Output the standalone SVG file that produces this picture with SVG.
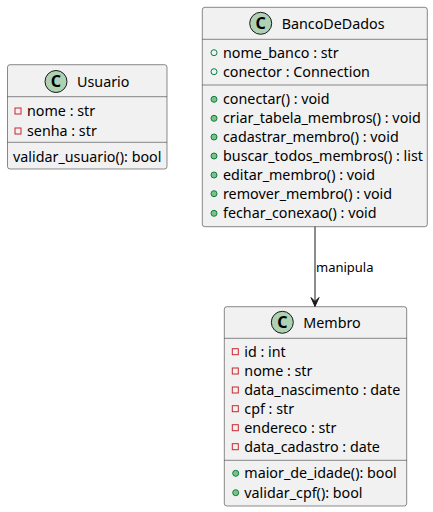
<svg xmlns="http://www.w3.org/2000/svg" width="433" height="512" viewBox="0 0 433 512">
<style>
.box{fill:#F1F1F1;stroke:#181818;stroke-width:0.5}
.sep{stroke:#181818;stroke-width:0.5}
.ci{fill:#ADD1B2;stroke:#181818;stroke-width:1}
.cl{font-family:"Noto Sans",sans-serif;font-size:16px;font-weight:bold;fill:#000;text-anchor:middle}
.t{font-family:"Noto Sans",sans-serif;font-size:14.3px;fill:#000}
.lbl{font-family:"Noto Sans",sans-serif;font-size:13px;fill:#000}
.priv{fill:none;stroke:#C82930;stroke-width:1}
.pubf{fill:none;stroke:#038048;stroke-width:1}
.pubm{fill:#84BE84;stroke:#038048;stroke-width:1}
</style>
<rect width="433" height="512" fill="#FFFFFF"/>
<g id="Usuario">
<rect class="box" x="7.5" y="64.7" width="159.5" height="104.3" rx="2.5"/>
<circle class="ci" cx="56" cy="81.5" r="11"/>
<text class="cl" x="56" y="87.3">C</text>
<text class="t" x="77" y="86.5">Usuario</text>
<line class="sep" x1="7.5" y1="96.7" x2="167" y2="96.7"/>
<rect class="priv" x="15" y="108" width="6" height="6"/>
<text class="t" x="27" y="115.7">nome : str</text>
<rect class="priv" x="15" y="128" width="6" height="6"/>
<text class="t" x="27" y="135.7">senha : str</text>
<line class="sep" x1="7.5" y1="142.3" x2="167" y2="142.3"/>
<text class="t" x="13" y="161.7">validar_usuario(): bool</text>
</g>
<g id="BancoDeDados">
<rect class="box" x="202.3" y="7.3" width="225" height="219.4" rx="2.5"/>
<circle class="ci" cx="260.7" cy="23.3" r="11"/>
<text class="cl" x="260.7" y="29.1">C</text>
<text class="t" x="281.7" y="28.5">BancoDeDados</text>
<line class="sep" x1="202.3" y1="39.3" x2="427.3" y2="39.3"/>
<circle class="pubf" cx="214" cy="52.7" r="3"/>
<text class="t" x="223" y="57.7">nome_banco : str</text>
<circle class="pubf" cx="214" cy="71.7" r="3"/>
<text class="t" x="223" y="76.7">conector : Connection</text>
<line class="sep" x1="202.3" y1="85" x2="427.3" y2="85"/>
<circle class="pubm" cx="214" cy="99.3" r="3"/>
<text class="t" x="223" y="104.3">conectar() : void</text>
<circle class="pubm" cx="214" cy="118.3" r="3"/>
<text class="t" x="223" y="123.3">criar_tabela_membros() : void</text>
<circle class="pubm" cx="214" cy="137" r="3"/>
<text class="t" x="223" y="142">cadastrar_membro() : void</text>
<circle class="pubm" cx="214" cy="156" r="3"/>
<text class="t" x="223" y="161">buscar_todos_membros() : list</text>
<circle class="pubm" cx="214" cy="175" r="3"/>
<text class="t" x="223" y="180">editar_membro() : void</text>
<circle class="pubm" cx="214" cy="193.7" r="3"/>
<text class="t" x="223" y="198.7">remover_membro() : void</text>
<circle class="pubm" cx="214" cy="213.3" r="3"/>
<text class="t" x="223" y="218.3">fechar_conexao() : void</text>
</g>
<g id="Membro">
<rect class="box" x="224.3" y="306.7" width="182.4" height="199.3" rx="2.5"/>
<circle class="ci" cx="282.3" cy="322.3" r="11"/>
<text class="cl" x="282.3" y="328.1">C</text>
<text class="t" x="303.3" y="327.5">Membro</text>
<line class="sep" x1="224.3" y1="338.3" x2="406.7" y2="338.3"/>
<rect class="priv" x="232.3" y="348.7" width="6" height="6"/>
<text class="t" x="244.3" y="356.7">id : int</text>
<rect class="priv" x="232.3" y="368" width="6" height="6"/>
<text class="t" x="244.3" y="376">nome : str</text>
<rect class="priv" x="232.3" y="387" width="6" height="6"/>
<text class="t" x="244.3" y="395">data_nascimento : date</text>
<rect class="priv" x="232.3" y="405.7" width="6" height="6"/>
<text class="t" x="244.3" y="413.7">cpf : str</text>
<rect class="priv" x="232.3" y="424.7" width="6" height="6"/>
<text class="t" x="244.3" y="432.7">endereco : str</text>
<rect class="priv" x="232.3" y="443.7" width="6" height="6"/>
<text class="t" x="244.3" y="451.7">data_cadastro : date</text>
<line class="sep" x1="224.3" y1="460.3" x2="406.7" y2="460.3"/>
<circle class="pubm" cx="235.7" cy="473.3" r="3"/>
<text class="t" x="244.3" y="478.3">maior_de_idade(): bool</text>
<circle class="pubm" cx="235.7" cy="492.7" r="3"/>
<text class="t" x="244.3" y="497.7">validar_cpf(): bool</text>
</g>
<g id="connectors">
<line x1="315" y1="226.7" x2="315" y2="304" stroke="#181818" stroke-width="1"/>
<polygon points="315,306.5 319,297.5 315,301.5 311,297.5" fill="#181818" stroke="#181818" stroke-width="1"/>
<text class="lbl" x="316" y="272.3">manipula</text>
</g>
</svg>
